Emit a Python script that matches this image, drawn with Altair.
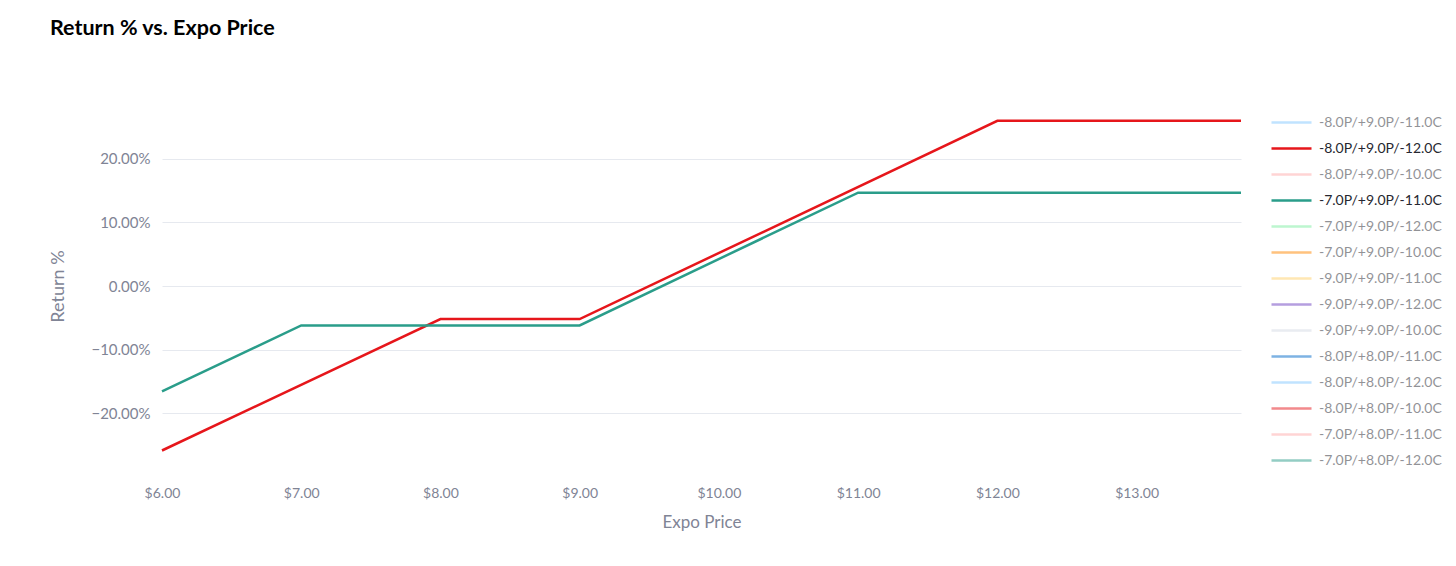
import altair as alt
import pandas as pd

# Series names (legend order) and colours
series_names = [
    "-8.0P/+9.0P/-11.0C", "-8.0P/+9.0P/-12.0C", "-8.0P/+9.0P/-10.0C",
    "-7.0P/+9.0P/-11.0C", "-7.0P/+9.0P/-12.0C", "-7.0P/+9.0P/-10.0C",
    "-9.0P/+9.0P/-11.0C", "-9.0P/+9.0P/-12.0C", "-9.0P/+9.0P/-10.0C",
    "-8.0P/+8.0P/-11.0C", "-8.0P/+8.0P/-12.0C", "-8.0P/+8.0P/-10.0C",
    "-7.0P/+8.0P/-11.0C", "-7.0P/+8.0P/-12.0C",
]
series_colors = [
    "#83c9ff", "#e6161b", "#ffabab", "#2a9d8a", "#7defa1", "#ff8700",
    "#ffd16a", "#6d3fc0", "#d5dae5", "#0068c9", "#83c9ff", "#e6161b",
    "#ffabab", "#2a9d8a",
]
selected_series = ["-8.0P/+9.0P/-12.0C", "-7.0P/+9.0P/-11.0C"]

# Visible series data (Expo Price, Return)
red_price = [6.0, 8.0, 9.0, 12.0, 13.75]
red_return = [-0.259, -0.052, -0.052, 0.260, 0.260]
teal_price = [6.0, 7.0, 9.0, 11.0, 13.75]
teal_return = [-0.166, -0.062, -0.062, 0.147, 0.147]

x_ticks = [6, 7, 8, 9, 10, 11, 12, 13]
y_ticks = [-0.2, -0.1, 0.0, 0.1, 0.2]

rows = []
for p, r in zip(red_price, red_return):
    rows.append({"series": selected_series[0], "price": p, "ret": r})
for p, r in zip(teal_price, teal_return):
    rows.append({"series": selected_series[1], "price": p, "ret": r})
df = pd.DataFrame(rows)

FONT = "Lato"
GREY = "#808495"

sel = alt.selection_point(
    fields=["series"], bind="legend",
    value=[{"series": s} for s in selected_series],
)

chart = (
    alt.Chart(df)
    .mark_line(strokeWidth=2.5)
    .encode(
        x=alt.X(
            "price:Q",
            title="Expo Price",
            scale=alt.Scale(domain=[6, 13.75], nice=False, zero=False),
            axis=alt.Axis(values=x_ticks, format="$.2f", grid=False, domain=False,
                          ticks=False, labelPadding=12, titlePadding=14,
                          labelFlush=False),
        ),
        y=alt.Y(
            "ret:Q",
            title="Return %",
            scale=alt.Scale(domain=[-0.296, 0.296], nice=False, zero=False),
            axis=alt.Axis(values=y_ticks, format=".2%", grid=True, domain=False,
                          ticks=False, labelPadding=12, titlePadding=23,
                          labelFontSize=15, titleFontSize=18),
        ),
        color=alt.Color(
            "series:N",
            scale=alt.Scale(domain=series_names, range=series_colors),
            legend=alt.Legend(
                title=None, orient="none", legendX=1108, legendY=11.5,
                symbolType="stroke", symbolSize=1600, symbolStrokeWidth=2.5,
                labelFontSize=14, labelColor="#262730", labelOffset=6,
                rowPadding=0, clipHeight=26, labelLimit=300, padding=0,
            ),
        ),
        opacity=alt.condition(sel, alt.value(1), alt.value(0)),
    )
    .add_params(sel)
    .properties(
        width=1079,
        height=376,
        autosize=alt.AutoSizeParams(type="none"),
        padding={"left": 154, "top": 90, "right": 207, "bottom": 84},
        title=alt.TitleParams(
            "Return % vs. Expo Price", anchor="start", dx=0, offset=59,
            fontSize=21.5, fontWeight="bold", color="#000000", font=FONT,
        ),
    )
    .configure(font=FONT)
    .configure_view(stroke=None)
    .configure_axis(
        labelFont=FONT, titleFont=FONT, labelColor=GREY, titleColor=GREY,
        labelFontSize=14, titleFontSize=17, titleFontWeight="normal",
        gridColor="#e6e9ef", gridWidth=1,
    )
    .configure_legend(unselectedOpacity=0.5, labelFont=FONT)
)

chart.save("out.html", embed_options={"renderer": "svg", "actions": False})
